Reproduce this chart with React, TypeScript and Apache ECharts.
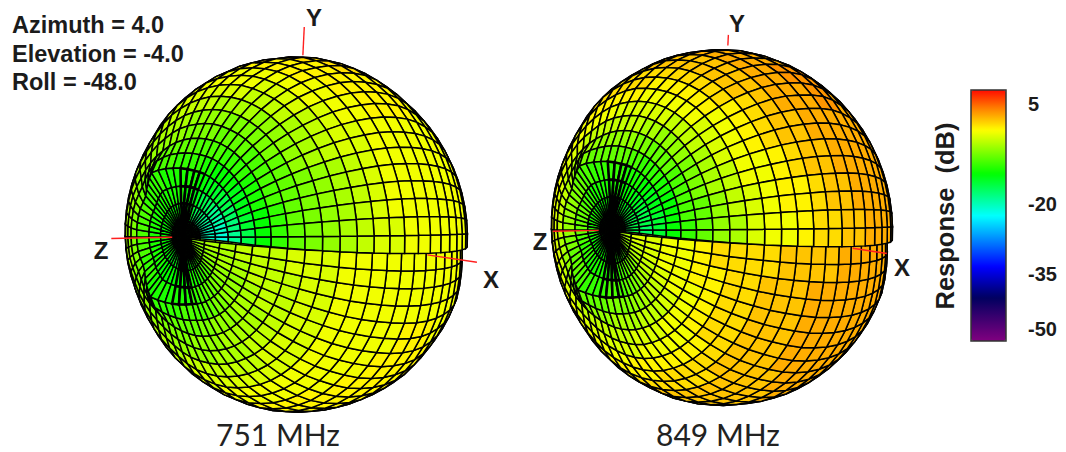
import React, { useEffect, useRef } from "react";
import * as echarts from "echarts";

// Response in dB. One row per polar ring (3, 9, 15 ... 141 deg from Z),
// one column per pair of 6-degree meridians (phi 6, 18, 30 ... 354 deg, counter-clockwise from X).
const response751: number[][] = [
  [-15,-15,-15,-15,-14,-14,-14,-13,-13,-13,-13,-13,-13,-13,-13,-13,-13,-13,-13,-13,-13,-13,-13,-13,-12,-12,-11,-10,-9,-8],
  [-20,-20,-19,-18,-17,-16,-14,-12,-12,-12,-12,-12,-12,-12,-12,-12,-12,-12,-12,-13,-13,-13,-13,-12,-12,-11,-10,-8,-7,-6],
  [-21,-20,-19,-18,-16,-15,-13,-12,-11,-11,-11,-11,-11,-11,-11,-11,-11,-11,-11,-12,-12,-12,-12,-11,-11,-10,-9,-7,-6,-5],
  [-18,-17,-16,-15,-14,-13,-12,-11,-11,-11,-10,-10,-10,-9,-9,-9,-9,-10,-10,-11,-11,-11,-11,-10,-9,-8,-7,-6,-5,-5],
  [-15,-14,-13,-13,-12,-12,-11,-10,-10,-9,-9,-9,-8,-7,-7,-7,-7,-8,-9,-9,-10,-10,-9,-9,-8,-7,-6,-6,-5,-4],
  [-12,-12,-11,-11,-10,-10,-9,-9,-8,-8,-8,-7,-7,-6,-6,-6,-6,-7,-7,-8,-8,-8,-8,-7,-6,-6,-5,-5,-4,-4],
  [-10,-10,-9,-9,-9,-8,-8,-7,-7,-6,-6,-6,-6,-5,-5,-5,-5,-6,-6,-7,-7,-7,-6,-6,-5,-5,-5,-4,-4,-4],
  [-8,-8,-8,-8,-7,-7,-7,-6,-6,-5,-5,-5,-5,-5,-5,-5,-5,-6,-6,-6,-6,-6,-6,-5,-5,-4,-4,-4,-4,-3],
  [-7,-7,-7,-6,-6,-6,-5,-5,-4,-4,-4,-5,-5,-5,-5,-5,-5,-5,-5,-5,-5,-4,-4,-4,-4,-3,-3,-3,-3,-3],
  [-6,-6,-6,-5,-5,-4,-4,-3,-3,-3,-3,-4,-5,-5,-5,-5,-5,-5,-5,-4,-4,-3,-3,-3,-3,-3,-3,-3,-3,-3],
  [-5,-5,-5,-4,-4,-3,-3,-2,-2,-2,-3,-4,-5,-5,-5,-5,-5,-5,-4,-4,-3,-3,-2,-2,-2,-2,-2,-2,-2,-2],
  [-4,-4,-4,-3,-3,-2,-2,-2,-2,-2,-3,-4,-5,-5,-5,-5,-5,-5,-4,-4,-3,-2,-2,-2,-2,-2,-2,-2,-2,-2],
  [-3,-3,-3,-3,-2,-2,-1,-1,-1,-2,-3,-4,-5,-5,-5,-5,-5,-5,-4,-4,-3,-2,-1,-1,-1,-2,-2,-2,-2,-2],
  [-3,-2,-2,-2,-2,-1,-1,-1,-1,-2,-3,-4,-5,-5,-5,-5,-5,-5,-4,-4,-3,-2,-1,-1,-1,-1,-2,-2,-2,-2],
  [-2,-2,-2,-2,-1,-1,-1,0,-1,-2,-3,-4,-5,-5,-5,-5,-5,-5,-4,-4,-3,-2,-1,-1,-1,-1,-1,-2,-2,-2],
  [-2,-2,-2,-2,-1,-1,0,0,-1,-2,-3,-4,-5,-5,-5,-5,-5,-5,-4,-4,-3,-2,-1,-1,-1,-1,-1,-1,-2,-2],
  [-2,-2,-2,-2,-1,-1,0,0,-1,-2,-3,-4,-5,-5,-5,-5,-5,-5,-4,-4,-3,-2,-1,-1,-1,-1,-1,-1,-2,-2],
  [-2,-2,-2,-2,-1,-1,0,0,-1,-2,-3,-4,-5,-5,-5,-5,-5,-5,-4,-4,-3,-2,-1,-1,-1,-1,-1,-1,-2,-2],
  [-2,-2,-2,-2,-2,-1,-1,-1,-1,-2,-3,-4,-5,-5,-5,-5,-5,-5,-4,-4,-3,-2,-1,-1,-1,-1,-1,-2,-2,-2],
  [-2,-2,-2,-2,-2,-2,-1,-1,-1,-2,-3,-4,-5,-5,-5,-5,-5,-5,-4,-4,-3,-2,-1,-1,-1,-1,-2,-2,-2,-2],
  [-2,-2,-2,-2,-2,-2,-2,-2,-2,-3,-4,-5,-5,-6,-6,-6,-6,-6,-5,-5,-4,-3,-2,-2,-2,-2,-2,-2,-2,-2],
  [-2,-2,-2,-2,-2,-2,-2,-2,-2,-3,-4,-5,-5,-6,-6,-6,-6,-6,-5,-5,-4,-3,-2,-2,-2,-2,-2,-2,-2,-2],
  [-2,-2,-2,-2,-2,-2,-2,-2,-2,-3,-4,-5,-5,-6,-6,-6,-6,-6,-5,-5,-4,-3,-2,-2,-2,-2,-2,-2,-2,-2],
  [-2,-2,-2,-2,-2,-2,-2,-2,-2,-3,-4,-5,-5,-6,-6,-6,-6,-6,-5,-5,-4,-3,-2,-2,-2,-2,-2,-2,-2,-2],
];

const response849: number[][] = [
  [-13,-13,-13,-13,-13,-13,-12,-12,-12,-12,-12,-12,-12,-12,-12,-12,-12,-12,-12,-12,-12,-12,-12,-12,-12,-11,-11,-10,-10,-9],
  [-15,-15,-15,-14,-14,-13,-13,-12,-12,-12,-12,-12,-11,-11,-11,-11,-11,-12,-12,-12,-12,-12,-12,-11,-11,-10,-9,-7,-6,-5],
  [-16,-15,-15,-14,-13,-12,-12,-11,-11,-11,-11,-10,-9,-8,-8,-8,-9,-10,-10,-11,-11,-11,-11,-10,-9,-8,-7,-5,-4,-3],
  [-14,-14,-13,-13,-12,-11,-11,-10,-10,-10,-9,-8,-7,-6,-6,-6,-7,-8,-8,-9,-10,-10,-9,-9,-8,-7,-5,-4,-3,-3],
  [-12,-12,-12,-11,-10,-10,-9,-8,-8,-8,-7,-6,-5,-4,-4,-4,-5,-6,-6,-7,-8,-8,-7,-7,-6,-5,-4,-3,-2,-2],
  [-10,-9,-9,-9,-8,-8,-7,-6,-6,-6,-5,-5,-4,-3,-3,-3,-3,-4,-5,-5,-6,-6,-5,-5,-4,-4,-3,-2,-2,-2],
  [-8,-8,-7,-7,-6,-6,-5,-4,-4,-4,-4,-3,-3,-2,-2,-2,-2,-3,-3,-4,-4,-4,-4,-3,-3,-2,-2,-2,-1,-1],
  [-6,-6,-5,-5,-4,-4,-3,-3,-3,-2,-2,-2,-2,-2,-2,-2,-2,-2,-2,-3,-3,-3,-3,-2,-2,-2,-1,-1,-1,0],
  [-5,-4,-4,-3,-3,-2,-2,-2,-1,-1,-1,-2,-2,-2,-2,-2,-2,-2,-2,-2,-2,-2,-1,-1,-1,-1,0,0,0,0],
  [-3,-3,-2,-2,-2,-1,-1,-1,0,0,0,-1,-2,-2,-2,-2,-2,-2,-2,-2,-1,-1,-1,0,0,0,0,0,0,0],
  [-2,-2,-2,-1,-1,0,0,0,0,0,0,-1,-2,-2,-2,-2,-2,-2,-2,-1,-1,0,0,0,0,1,1,1,1,0],
  [-2,-1,-1,0,0,1,1,1,1,0,0,-1,-2,-2,-2,-2,-2,-2,-2,-1,0,0,1,1,1,1,1,1,1,1],
  [-1,-1,0,1,1,1,1,1,1,0,0,-1,-2,-2,-2,-2,-2,-2,-2,-1,0,0,1,1,1,1,1,1,1,1],
  [0,0,1,1,2,2,2,2,1,1,0,-1,-2,-2,-2,-2,-2,-2,-2,-1,0,1,1,1,1,1,2,2,2,1],
  [0,1,1,2,2,2,2,2,1,1,0,-1,-2,-2,-2,-2,-2,-2,-2,-1,0,1,1,1,1,2,2,2,2,1],
  [1,1,2,2,2,3,2,2,1,1,0,-1,-2,-2,-2,-2,-2,-2,-2,-1,0,1,1,1,2,2,2,2,2,2],
  [1,2,2,2,3,3,2,2,1,1,0,-1,-2,-2,-2,-2,-2,-2,-2,-1,0,1,1,1,2,2,2,2,2,2],
  [2,2,2,2,3,3,2,2,1,1,0,-1,-2,-2,-2,-2,-2,-2,-2,-1,0,1,1,1,2,2,2,2,2,2],
  [2,2,2,2,2,2,2,2,1,1,0,-1,-2,-2,-2,-2,-2,-2,-2,-1,0,1,1,1,2,2,2,2,2,2],
  [2,2,2,2,2,2,2,2,1,1,0,-1,-2,-2,-2,-2,-2,-2,-2,-1,0,1,1,1,2,2,2,2,2,2],
  [2,2,2,2,2,2,2,2,1,1,0,-1,-2,-2,-2,-2,-2,-2,-2,-1,0,1,1,1,2,2,2,2,2,2],
  [2,2,2,2,2,2,2,2,1,1,0,-1,-2,-2,-2,-2,-2,-2,-2,-1,0,1,1,1,2,2,2,2,2,2],
  [2,2,2,2,2,2,2,2,1,1,0,-1,-2,-2,-2,-2,-2,-2,-2,-1,0,1,1,1,2,2,2,2,2,2],
  [2,2,2,2,2,2,2,2,1,1,0,-1,-2,-2,-2,-2,-2,-2,-2,-1,0,1,1,1,2,2,2,2,2,2],
];

// Colour scale: dB position of each pure colour.
const scaleDb = [-53, -42.5, -35, -22.6, -12.4, -1.8, 3.5, 8.4];
const scaleRgb = [
  [128, 0, 128],
  [0, 0, 96],
  [0, 0, 255],
  [0, 255, 255],
  [0, 255, 0],
  [255, 255, 0],
  [255, 128, 0],
  [255, 0, 0],
];
const barTicks = ["5", "-20", "-35", "-50"];
const barTickY = [104, 204, 274, 329];
const viewLines = ["Azimuth = 4.0", "Elevation = -4.0", "Roll = -48.0"];
const captions = ["751 MHz", "849 MHz"];

// Surface shape around the Z pole: radial rim by ring (0, 6, 12 ... deg), left side of the pole.
const rimByRing = [0, 0, 0.01, 0.04, 0.1, 0.05, 0, -0.01, -0.01, -0.005];
const rimMeridians = [125, 240];

// Layout of each sphere on the page.
const views = [
  { ox: 294, oy: 235, rx: 174, ry: 178, peak: -1, z: [1, 1.5], x: [1.065, 1.46], y: [1.02, 1.18] },
  { ox: 719, oy: 228, rx: 172, ry: 179, peak: 1.5, z: [1, 1.38], x: [1.08, 1.355], y: [1.03, 1.09] },
];
const axisX = [0.72, 0.105, 0.685];
const axisY = [0.05, -0.99, 0.09];
const axisZ = [-0.7, 0.013, 0.714];
const STEP = 6;
const RAD = Math.PI / 180;

function colorAt(db: number) {
  let k = 0;
  while (k < scaleDb.length - 2 && db > scaleDb[k + 1]) k++;
  const t = Math.min(1, Math.max(0, (db - scaleDb[k]) / (scaleDb[k + 1] - scaleDb[k])));
  const c = scaleRgb[k].map((v, n) => Math.round(v + (scaleRgb[k + 1][n] - v) * t));
  return `rgb(${c[0]},${c[1]},${c[2]})`;
}
const barColors: string[] = [];
for (let d = scaleDb[0]; d <= scaleDb[scaleDb.length - 1] + 0.01; d += 0.5) barColors.push(colorAt(d));

function toPage(v: any, n: number[], r: number) {
  return [
    v.ox + v.rx * r * (axisX[0] * n[0] + axisY[0] * n[1] + axisZ[0] * n[2]),
    v.oy + v.ry * r * (axisX[1] * n[0] + axisY[1] * n[1] + axisZ[1] * n[2]),
    r * (axisX[2] * n[0] + axisY[2] * n[1] + axisZ[2] * n[2]),
  ];
}

function buildMesh(table: number[][], v: any) {
  const rows = table.length;
  const cols = table[0].length * 2;
  const cell = (i: number, j: number) => table[i][Math.floor(j / 2)];
  const poleDb = table[0].reduce((a, b) => a + b, 0) / table[0].length;
  const verts: number[][][] = [];
  for (let a = 0; a <= rows; a++) {
    const line: number[][] = [];
    for (let b = 0; b <= cols; b++) {
      let sum = 0;
      let cnt = 0;
      for (const i of [a - 1, a]) {
        for (const j of [b - 1, b]) {
          if (i >= 0 && i < rows && j >= 0 && j < cols) {
            sum += cell(i, j);
            cnt++;
          }
        }
      }
      const db = a === 0 ? poleDb : sum / cnt;
      const th = a * STEP * RAD;
      const ph = b * STEP * RAD;
      const phiDeg = b * STEP;
      const near = Math.min(...rimMeridians.map((m) => Math.abs(phiDeg - m)));
      const base = 0.25 * Math.sqrt(Math.max(0, -Math.cos(ph)));
      const rim = (rimByRing[a] || 0) * Math.max(base, 1 - near / 35);
      const trim = phiDeg > 336 ? (0.03 * (phiDeg - 336)) / 24 : 0;
      const r = 1 + 0.008 * (db - v.peak) + rim - (a > 12 ? trim : (trim * a) / 12);
      line.push(toPage(v, [Math.sin(th) * Math.cos(ph), Math.sin(th) * Math.sin(ph), Math.cos(th)], r));
    }
    verts.push(line);
  }
  const data: number[][] = [];
  for (let i = 0; i < rows; i++) {
    for (let j = 0; j < cols; j++) {
      const depth = verts[i][j][2] + verts[i + 1][j][2] + verts[i][j + 1][2] + verts[i + 1][j + 1][2];
      data.push([i, j, cell(i, j), depth]);
    }
  }
  data.sort((p, q) => p[3] - q[3]);
  return { verts, data };
}

function sphereSeries(table: number[][], v: any) {
  const { verts, data } = buildMesh(table, v);
  return {
    type: "custom",
    coordinateSystem: "cartesian2d",
    silent: true,
    clip: false,
    progressive: 0,
    animation: false,
    data,
    renderItem: (_: any, api: any) => {
      const i = api.value(0);
      const j = api.value(1);
      const corners = [verts[i][j], verts[i + 1][j], verts[i + 1][j + 1], verts[i][j + 1]];
      const upright = Math.abs(Math.sin((j + 0.5) * STEP * RAD)) > 0.97;
      return {
        type: "polygon",
        shape: { points: corners.map((p) => api.coord([p[0], p[1]])) },
        style: { fill: api.visual("color"), stroke: "#000", lineWidth: i <= 3 && upright ? 2.6 : 1.5 },
      };
    },
  };
}

function axisSeries() {
  const dirs = [[0, 0, 1], [1, 0, 0], [0, 1, 0]];
  const names = ["z", "x", "y"];
  const data: number[][] = [];
  views.forEach((_, s) => dirs.forEach((__, a) => data.push([s, a])));
  return {
    type: "custom",
    coordinateSystem: "cartesian2d",
    silent: true,
    clip: false,
    animation: false,
    z: 5,
    data,
    renderItem: (_: any, api: any) => {
      const v: any = views[api.value(0)];
      const a = api.value(1);
      const [from, to] = v[names[a]];
      const p = toPage(v, dirs[a], from);
      const q = toPage(v, dirs[a], to);
      const c0 = api.coord([p[0], p[1]]);
      const c1 = api.coord([q[0], q[1]]);
      return {
        type: "line",
        shape: { x1: c0[0], y1: c0[1], x2: c1[0], y2: c1[1] },
        style: { stroke: "#ff2020", lineWidth: 1.4 },
      };
    },
  };
}

const ARIAL = "'Liberation Sans', Arial, sans-serif";

function label(text: string, x: number, y: number, size: number, bold = false, family = ARIAL, color = "#1b1b1b", align = "center") {
  return {
    type: "text",
    x,
    y,
    z: 20,
    style: {
      text,
      fill: color,
      font: `${bold ? "bold " : ""}${size}px ${family}`,
      textAlign: align,
      textVerticalAlign: "middle",
    },
  };
}

export default function App() {
  const ref = useRef<HTMLDivElement>(null);
  useEffect(() => {
    const chart = echarts.init(ref.current!, undefined, { renderer: "svg" });
    const graphics: any[] = [];
    viewLines.forEach((t, i) => {
      graphics.push(label(t, 12, 25 + i * 28.5, 23.5, true, ARIAL, "#1b1b1b", "left"));
    });
    const axisNames = [
      ["Y", 314, 17], ["Z", 101, 250], ["X", 491, 279],
      ["Y", 737, 23], ["Z", 540, 241], ["X", 902, 267],
    ] as [string, number, number][];
    axisNames.forEach(([t, x, y]) => graphics.push(label(t, x, y, 24, true)));
    graphics.push(label(captions[0], 278, 434, 30, false, "Lato, sans-serif", "#222"));
    graphics.push(label(captions[1], 718, 434, 30, false, "Lato, sans-serif", "#222"));
    barTicks.forEach((t, i) => graphics.push(label(t, 1028, barTickY[i], 20, true, ARIAL, "#1b1b1b", "left")));
    graphics.push({
      type: "text",
      x: 945,
      y: 216,
      rotation: Math.PI / 2,
      z: 20,
      style: { text: "Response  (dB)", fill: "#1b1b1b", font: `bold 25.5px ${ARIAL}`, textAlign: "center", textVerticalAlign: "middle" },
    });
    graphics.push({
      type: "rect",
      z: 21,
      shape: { x: 971, y: 90, width: 35, height: 251 },
      style: { fill: "none", stroke: "#333", lineWidth: 1.5 },
    });
    chart.setOption({
      animation: false,
      backgroundColor: "#fff",
      grid: { left: 0, right: 0, top: 0, bottom: 0 },
      xAxis: { type: "value", min: 0, max: 1066, show: false },
      yAxis: { type: "value", min: 0, max: 452, inverse: true, show: false },
      visualMap: {
        type: "continuous",
        seriesIndex: [0, 1],
        dimension: 2,
        min: scaleDb[0],
        max: scaleDb[scaleDb.length - 1],
        calculable: false,
        hoverLink: false,
        text: ["", ""],
        showLabel: false,
        left: 971,
        top: 90,
        padding: 0,
        itemWidth: 35,
        itemHeight: 251,
        inRange: { color: barColors },
      },
      graphic: graphics,
      series: [sphereSeries(response751, views[0]), sphereSeries(response849, views[1]), axisSeries()],
    });
    return () => chart.dispose();
  }, []);
  return <div ref={ref} style={{ position: "fixed", left: 0, top: 0, width: 1066, height: 452, background: "#fff" }} />;
}
